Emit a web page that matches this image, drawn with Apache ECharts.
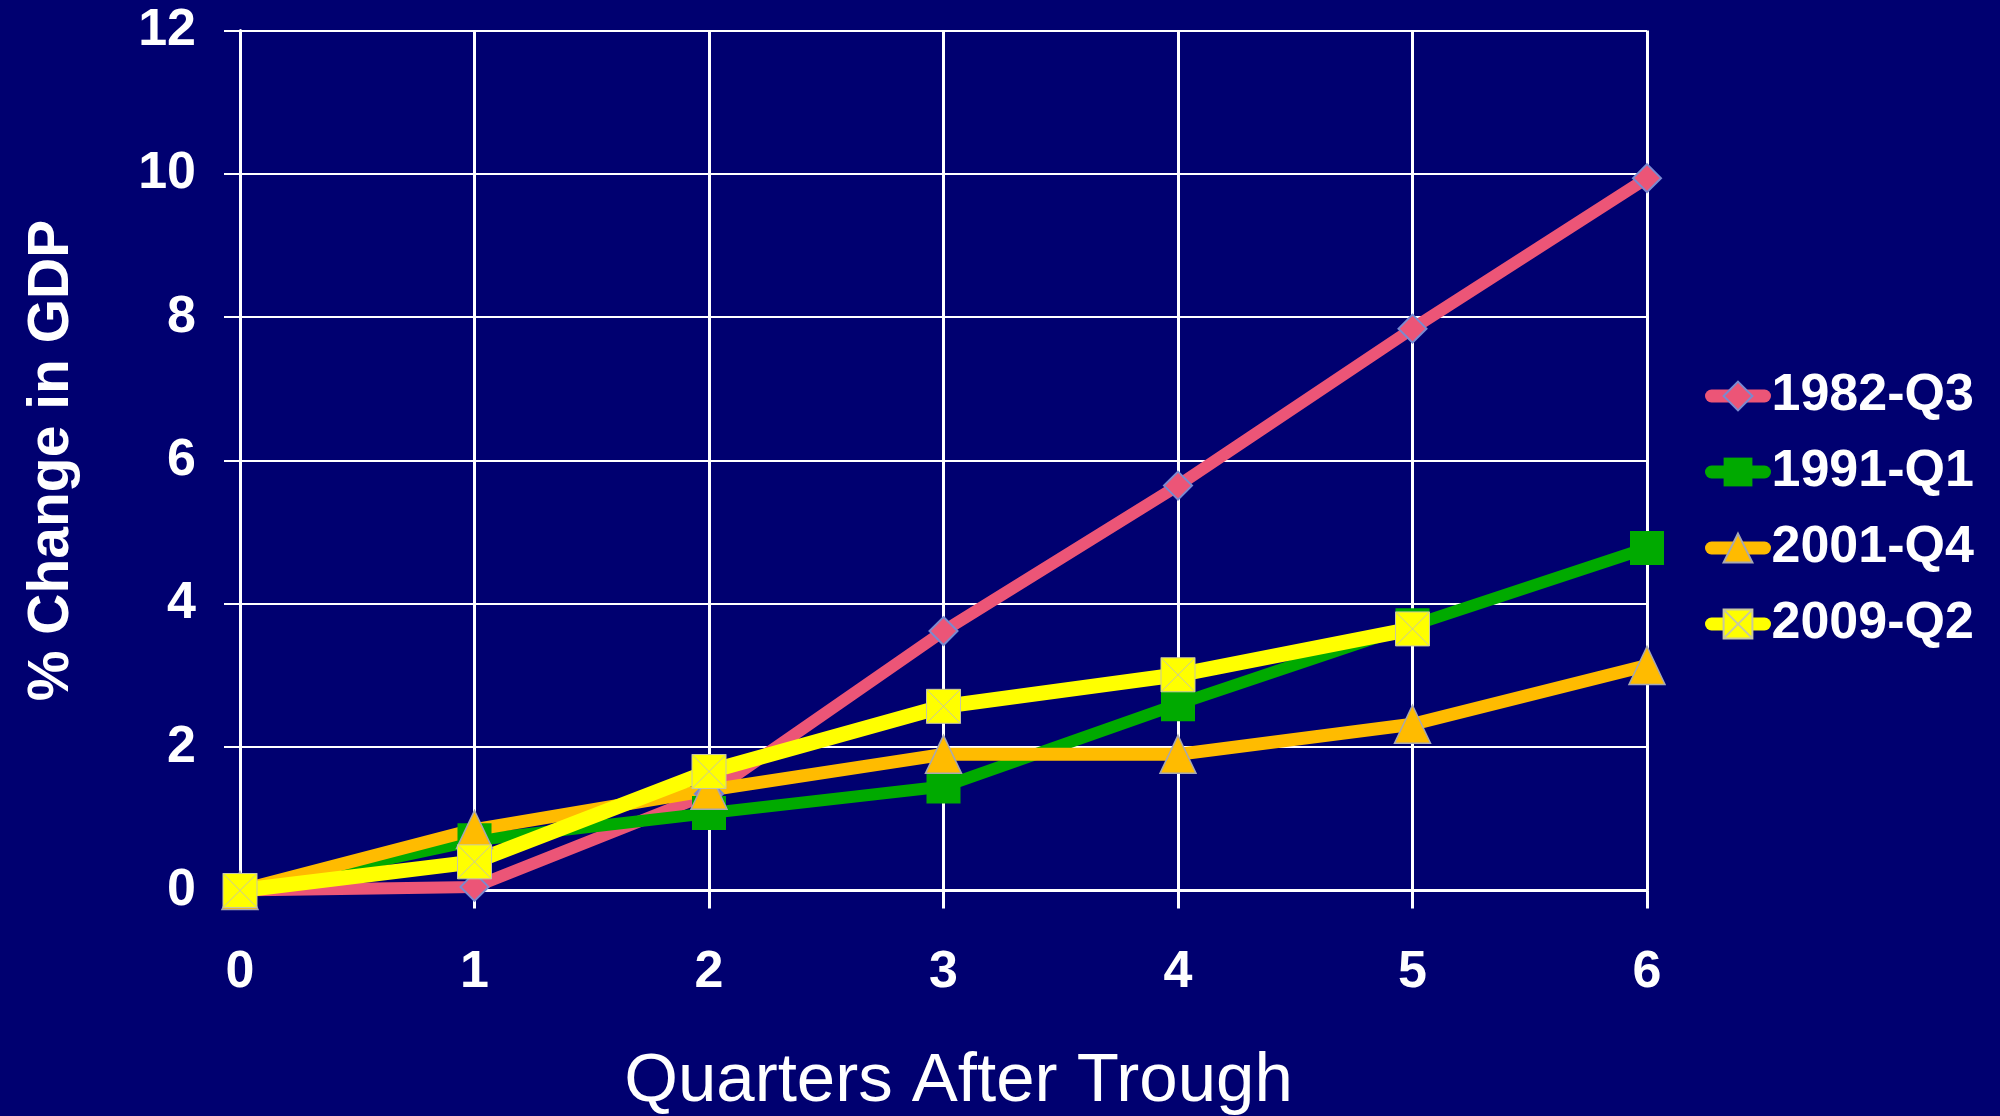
<!DOCTYPE html>
<html>
<head>
<meta charset="utf-8">
<style>
	html,body{margin:0;padding:0;background:#000070}
	#main{width:2000px;height:1116px}
</style>
<script src="https://cdn.jsdelivr.net/npm/echarts@6/dist/echarts.min.js"></script>
</head>
<body>
<div id="main"></div>
<script>
// quarters after trough and % change in GDP
var quarters = [0, 1, 2, 3, 4, 5, 6];
var q1982 = [0, 0.05, 1.35, 3.62, 5.65, 7.84, 9.94];
var q1991 = [0, 0.7, 1.08, 1.45, 2.6, 3.7, 4.78];
var q2001 = [0, 0.85, 1.4, 1.9, 1.9, 2.32, 3.14];
var q2009 = [0, 0.4, 1.66, 2.57, 3.01, 3.65];

function pairs(vals){
	return vals.map(function(v, i){ return [quarters[i], v]; });
}

var font = 'Liberation Sans';
// square with a thin cross, like the 2009 markers
var crossBox = 'path://M0,0L10,0L10,10L0,10Z M0,0L10,10 M10,0L0,10';
var myChart = echarts.init(document.getElementById('main'));
var option = {
	backgroundColor: '#000070',
	animation: false,
	grid: {
		left: 240,
		right: 353,
		top: 30.5,
		bottom: 225.5,
		outerBoundsMode: 'none'
	},
	legend: {
		orient: 'vertical',
		left: 1700,
		top: 365,
		itemWidth: 53,
		itemHeight: 36,
		itemGap: 24,
		lineStyle: {width: 13, cap: 'round'},
		textStyle: {
			color: '#fff',
			fontFamily: font,
			fontWeight: 'bold',
			fontSize: 52,
			padding: [0, 0, 0, 2]
		},
		data: ['1982-Q3', '1991-Q1', '2001-Q4', '2009-Q2']
	},
	xAxis: {
		type: 'value',
		min: 0,
		max: 6,
		interval: 1,
		name: 'Quarters After Trough',
		nameLocation: 'middle',
		nameGap: 157,
		nameTextStyle: {color: '#fff', fontFamily: font, fontSize: 69, padding: [0, 0, 0, 30]},
		axisLine: {lineStyle: {color: '#fff', width: 3}},
		axisTick: {show: true, length: 18, lineStyle: {color: '#fff', width: 3}},
		axisLabel: {color: '#fff', fontFamily: font, fontWeight: 'bold', fontSize: 52, margin: 56},
		splitLine: {show: true, lineStyle: {color: '#fff', width: 3}}
	},
	yAxis: {
		type: 'value',
		min: 0,
		max: 12,
		interval: 2,
		name: '% Change in GDP',
		nameLocation: 'middle',
		nameGap: 159,
		nameTextStyle: {color: '#fff', fontFamily: font, fontWeight: 'bold', fontSize: 57},
		axisLine: {show: true, lineStyle: {color: '#fff', width: 3}},
		axisTick: {show: true, length: 16, lineStyle: {color: '#fff', width: 2}},
		axisLabel: {color: '#fff', fontFamily: font, fontWeight: 'bold', fontSize: 52, margin: 44},
		splitLine: {show: true, lineStyle: {color: '#fff', width: 2}}
	},
	series: [
	{
		name: '1982-Q3',
		type: 'line',
		data: pairs(q1982),
		symbol: 'diamond',
		symbolSize: 28,
		lineStyle: {color: '#ec5577', width: 12},
		itemStyle: {color: '#ec5577', borderColor: '#7a8ad0', borderWidth: 2}
	},
	{
		name: '1991-Q1',
		type: 'line',
		data: pairs(q1991),
		symbol: 'rect',
		symbolSize: 34,
		lineStyle: {color: '#00aa00', width: 12},
		itemStyle: {color: '#00aa00'}
	},
	{
		name: '2001-Q4',
		type: 'line',
		data: pairs(q2001),
		symbol: 'triangle',
		symbolSize: [36, 38],
		lineStyle: {color: '#ffbb00', width: 13},
		itemStyle: {color: '#ffbb00', borderColor: '#a8a8b0', borderWidth: 1.5}
	},
	{
		name: '2009-Q2',
		type: 'line',
		data: pairs(q2009),
		symbol: crossBox,
		symbolSize: 34,
		lineStyle: {color: '#ffff00', width: 15},
		itemStyle: {color: '#ffff00', borderColor: '#c8c8a0', borderWidth: 1}
	}
	]
};
myChart.setOption(option);
</script>
</body>
</html>
